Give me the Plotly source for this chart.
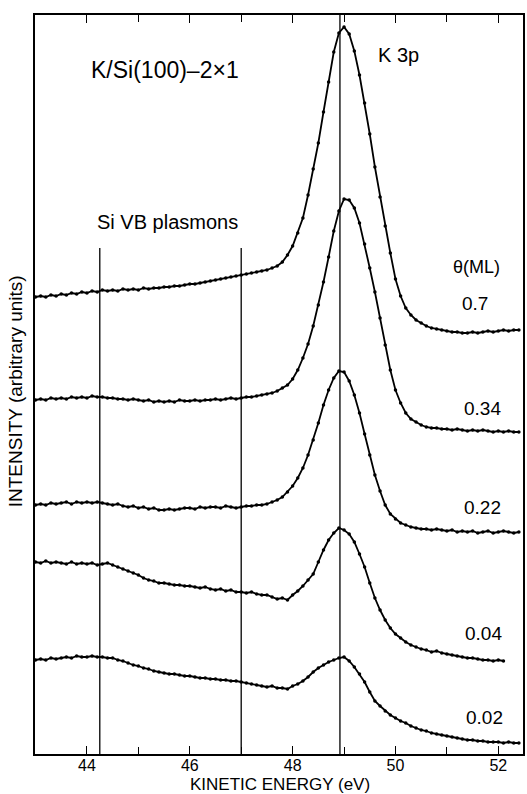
import plotly.graph_objects as go

# Kinetic energy grid (eV)
energy = [43.0, 43.1, 43.2, 43.3, 43.4, 43.5, 43.6, 43.7, 43.8, 43.9,
          44.0, 44.1, 44.2, 44.3, 44.4, 44.5, 44.6, 44.7, 44.8, 44.9,
          45.0, 45.1, 45.2, 45.3, 45.4, 45.5, 45.6, 45.7, 45.8, 45.9,
          46.0, 46.1, 46.2, 46.3, 46.4, 46.5, 46.6, 46.7, 46.8, 46.9,
          47.0, 47.1, 47.2, 47.3, 47.4, 47.5, 47.6, 47.7, 47.8, 47.9,
          48.0, 48.1, 48.2, 48.3, 48.4, 48.5, 48.6, 48.7, 48.8, 48.9,
          49.0, 49.1, 49.2, 49.3, 49.4, 49.5, 49.6, 49.7, 49.8, 49.9,
          50.0, 50.1, 50.2, 50.3, 50.4, 50.5, 50.6, 50.7, 50.8, 50.9,
          51.0, 51.1, 51.2, 51.3, 51.4, 51.5, 51.6, 51.7, 51.8, 51.9,
          52.0, 52.1, 52.2, 52.3, 52.4]

# Intensities (arbitrary units, curves offset vertically)
int_070 = [457, 458, 457, 459, 458, 460, 459, 461, 460, 462,
           461, 463, 462, 464, 463, 464, 463, 465, 464, 465,
           464, 466, 465, 466, 466, 467, 467, 468, 468, 469,
           470, 470, 471, 472, 473, 474, 475, 476, 477, 478,
           479, 480, 481, 482, 483, 484, 486, 488, 492, 499,
           508, 521, 536, 559, 585, 611, 642, 672, 702, 721,
           727, 720, 703, 679, 651, 620, 587, 557, 528, 501,
           475, 458, 446, 439, 434, 431, 428, 426, 425, 424,
           423, 422, 422, 421, 421, 422, 421, 422, 423, 422,
           423, 424, 423, 424, 424]

int_034 = [354, 355, 354, 356, 355, 356, 355, 357, 356, 357,
           356, 358, 357, 357, 356, 356, 355, 355, 354, 355,
           354, 353, 354, 352, 353, 352, 353, 352, 354, 353,
           353, 354, 353, 354, 354, 355, 354, 355, 356, 355,
           356, 357, 357, 358, 359, 360, 361, 363, 366, 369,
           375, 384, 396, 410, 428, 449, 472, 497, 523, 543,
           555, 554, 546, 531, 510, 486, 462, 436, 409, 384,
           364, 351, 341, 335, 332, 329, 327, 326, 326, 325,
           325, 324, 325, 324, 323, 324, 323, 324, 323, 322,
           323, 322, 323, 322, 322]

int_022 = [249, 250, 249, 251, 250, 251, 252, 250, 252, 251,
           252, 251, 252, 251, 250, 249, 250, 248, 247, 248,
           246, 247, 245, 246, 244, 244, 245, 244, 245, 246,
           246, 245, 247, 246, 247, 247, 246, 248, 247, 246,
           247, 248, 248, 249, 249, 250, 252, 254, 257, 262,
           268, 276, 286, 299, 314, 331, 349, 364, 376, 383,
           382, 373, 359, 341, 320, 299, 279, 263, 249, 240,
           235, 231, 229, 227, 226, 225, 225, 224, 225, 224,
           223, 224, 222, 223, 222, 223, 221, 222, 223, 221,
           222, 223, 222, 221, 222]

int_004 = [192, 191, 193, 191, 192, 191, 190, 192, 190, 191,
           190, 191, 189, 190, 191, 189, 187, 185, 183, 181,
           179, 176, 174, 173, 171, 171, 170, 169, 169, 168,
           168, 167, 166, 167, 165, 164, 165, 163, 164, 162,
           162, 161, 162, 160, 159, 159, 157, 155, 156, 154,
           159, 163, 168, 174, 180, 192, 204, 214, 221, 226,
           224, 220, 212, 200, 187, 171, 156, 144, 134, 126,
           120, 116, 112, 109, 107, 105, 104, 102, 103, 101,
           100, 99, 98, 97, 96, 96, 95, 94, 94, 93,
           94, 93]

int_002 = [94, 95, 94, 96, 95, 96, 97, 96, 98, 97,
           97, 98, 97, 97, 96, 96, 94, 93, 91, 89,
           88, 86, 85, 83, 82, 81, 80, 80, 79, 78,
           78, 77, 76, 76, 75, 75, 74, 74, 73, 73,
           72, 71, 70, 69, 68, 67, 68, 66, 66, 65,
           68, 70, 73, 77, 82, 86, 89, 92, 94, 96,
           97, 93, 87, 80, 72, 62, 53, 48, 43, 39,
           36, 33, 31, 28, 26, 24, 23, 21, 20, 19,
           18, 17, 16, 15, 14, 14, 13, 13, 12, 12,
           12, 11, 12, 11, 11]

series = [int_070, int_034, int_022, int_004, int_002]
coverage_labels = ["0.7", "0.34", "0.22", "0.04", "0.02"]
coverage_label_pos = [(51.55, 451), (51.70, 346), (51.70, 247), (51.72, 121), (51.74, 37)]

plasmon_energies = [44.25, 47.0]
plasmon_line_top = 506
k3p_energy = 48.92

x_major_ticks = [44, 46, 48, 50, 52]

FONT = "Liberation Sans, Arial, Helvetica, sans-serif"

fig = go.Figure()
for vals in series:
    fig.add_trace(go.Scatter(
        x=energy[:len(vals)], y=vals, mode="lines+markers",
        line=dict(color="black", width=1.8),
        marker=dict(color="black", size=3.5, symbol="circle"),
        showlegend=False, hoverinfo="skip"))

shapes = []
for e in plasmon_energies:
    shapes.append(dict(type="line", xref="x", yref="y", x0=e, x1=e,
                       y0=0, y1=plasmon_line_top,
                       line=dict(color="black", width=1.3)))
shapes.append(dict(type="line", xref="x", yref="paper", x0=k3p_energy, x1=k3p_energy,
                   y0=0, y1=1, line=dict(color="black", width=1.3)))

annotations = [
    dict(text="K/Si(100)\u20132\u00d71", x=45.51, y=684, xref="x", yref="y",
         showarrow=False, font=dict(size=23, family=FONT, color="black")),
    dict(text="K 3p", x=50.06, y=699, xref="x", yref="y",
         showarrow=False, font=dict(size=20, family=FONT, color="black")),
    dict(text="Si VB plasmons", x=45.56, y=532, xref="x", yref="y",
         showarrow=False, font=dict(size=20, family=FONT, color="black")),
    dict(text="\u03b8(ML)", x=51.57, y=487, xref="x", yref="y",
         showarrow=False, font=dict(size=18, family=FONT, color="black")),
    dict(text="KINETIC ENERGY (eV)", x=0.502, y=-0.0415, xref="paper", yref="paper",
         xanchor="center", yanchor="middle",
         showarrow=False, font=dict(size=17, family=FONT, color="black")),
    dict(text="INTENSITY (arbitrary units)", x=-0.0408, y=0.491, xref="paper", yref="paper",
         xanchor="center", yanchor="middle", textangle=-90,
         showarrow=False, font=dict(size=19, family=FONT, color="black")),
]
for lab, (xe, yi) in zip(coverage_labels, coverage_label_pos):
    annotations.append(dict(text=lab, x=xe, y=yi, xref="x", yref="y", showarrow=False,
                            font=dict(size=19, family=FONT, color="black")))

fig.update_layout(
    width=527, height=794,
    margin=dict(l=35, r=2, t=15, b=40),
    paper_bgcolor="white", plot_bgcolor="white",
    shapes=shapes, annotations=annotations,
    xaxis=dict(range=[42.99, 52.48], tickvals=x_major_ticks,
               ticks="inside", ticklen=8, tickwidth=1.3, tickcolor="black",
               ticklabelstandoff=-4,
               showline=True, linecolor="black", linewidth=1.6, mirror="ticks",
               showgrid=False, zeroline=False,
               tickfont=dict(size=16, family=FONT, color="black"),
               minor=dict(dtick=1, tick0=43, ticks="inside", ticklen=7,
                          tickwidth=1.3, tickcolor="black", showgrid=False)),
    yaxis=dict(range=[0, 739], showticklabels=False, ticks="",
               showline=True, linecolor="black", linewidth=1.6, mirror=True,
               showgrid=False, zeroline=False),
)

fig.write_html("out.html")
